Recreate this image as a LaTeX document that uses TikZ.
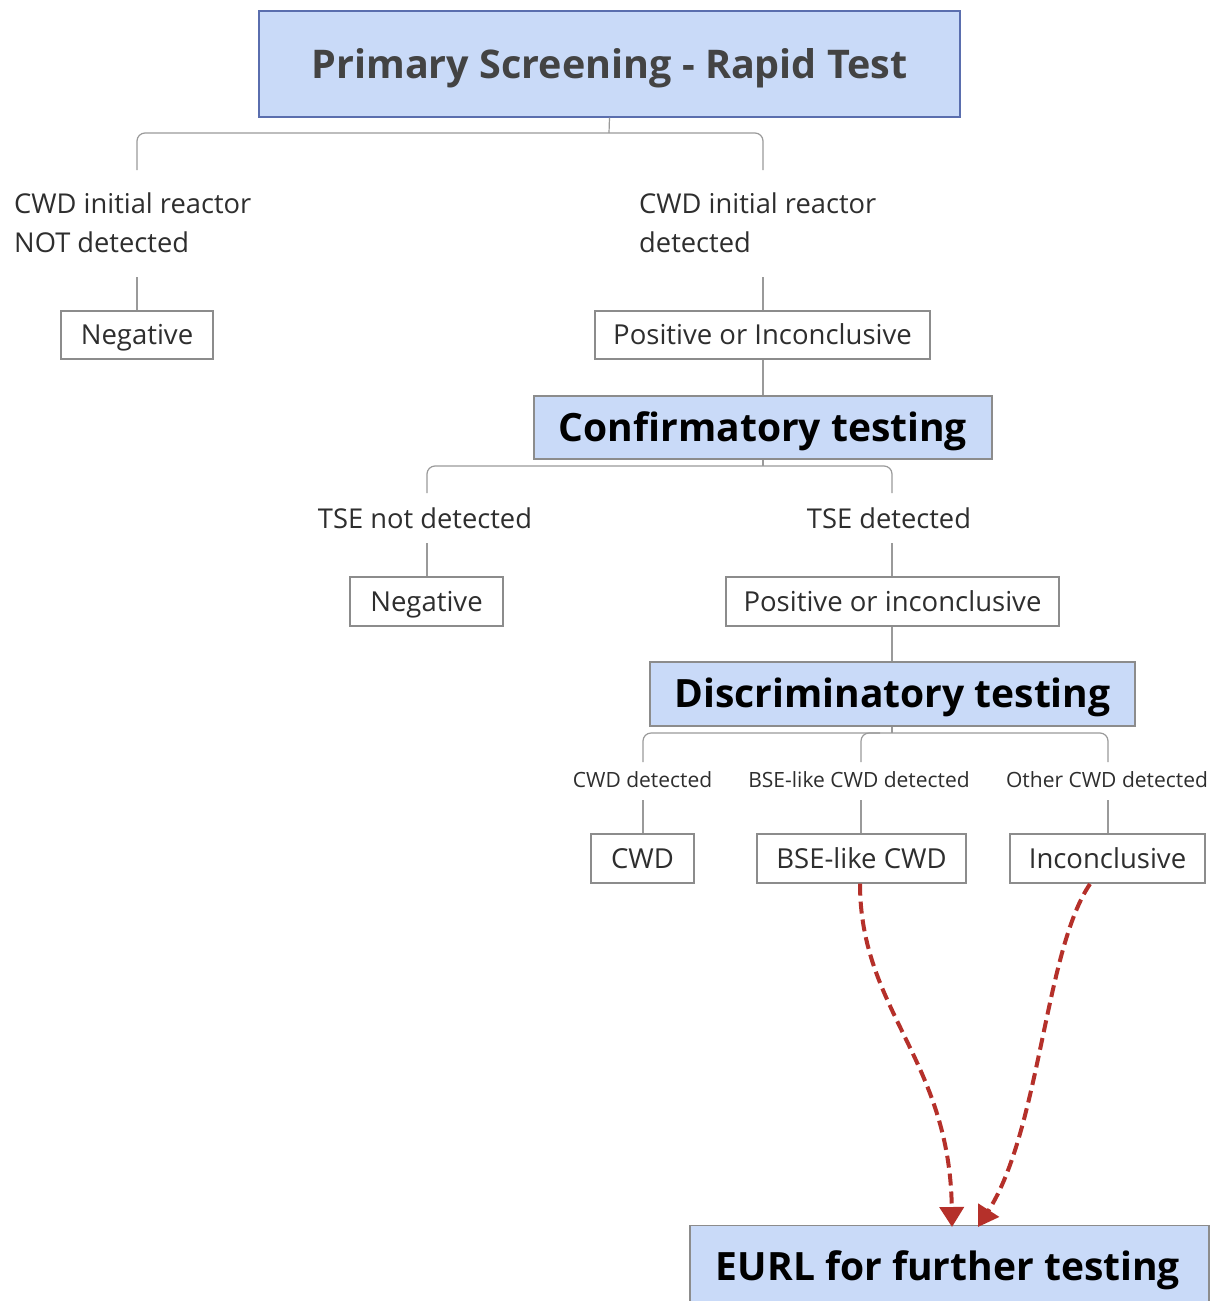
\documentclass[tikz,border=0pt]{standalone}
\usepackage{fontspec}
\setmainfont{Open Sans}
\usetikzlibrary{arrows.meta}
\definecolor{boxblue}{HTML}{C9DAF8}
\definecolor{topborder}{HTML}{5A6EAE}
\definecolor{boxborder}{HTML}{8C8C8C}
\definecolor{connc}{HTML}{9A9A9A}
\definecolor{txtc}{HTML}{2E2E2E}
\definecolor{titlec}{HTML}{434343}
\definecolor{redc}{HTML}{B5302A}
\begin{document}
\begin{tikzpicture}[x=1pt,y=-1pt,
  headbox/.style={draw=boxborder, fill=boxblue, line width=1.2pt, inner sep=0pt, font=\fontsize{39}{46}\selectfont\bfseries, text=black, text height=27.8pt, text depth=0pt},
  resbox/.style={draw=boxborder, fill=white, line width=1.2pt, inner sep=0pt, font=\fontsize{27.5}{32}\selectfont, text=txtc, text height=19.6pt, text depth=0pt},
  lbl/.style={inner sep=0pt, font=\fontsize{27.3}{39}\selectfont, text=txtc},
  slbl/.style={inner sep=0pt, font=\fontsize{21}{25}\selectfont, text=txtc},
  conn/.style={draw=connc, line width=1.2pt, rounded corners=8pt},
  redarrow/.style={draw=redc, line width=4pt, dash pattern=on 12pt off 6pt, -{Triangle[width=24pt,length=20pt]}}
]
\useasboundingbox (0,0) rectangle (1213,1301);
\clip (0,0) rectangle (1213,1301);
\fill[white] (0,0) rectangle (1213,1301);

% Top level
\node[headbox, draw=topborder, minimum width=701pt, minimum height=106pt, text=titlec, font=\fontsize{39.5}{46}\selectfont\bfseries, text height=28.2pt] (top) at (609.5,64) {Primary Screening - Rapid Test};

\node[lbl, anchor=west, align=left] (l1) at (14,223) {CWD initial reactor\\NOT detected};
\node[lbl, anchor=west, align=left] (r1) at (639,223) {CWD initial reactor\\detected};
\coordinate (l1t) at (137,170);
\coordinate (l1b) at (137,277);
\coordinate (r1t) at (763,170);
\coordinate (r1b) at (763,277);

\node[resbox, minimum width=152pt, minimum height=48pt] (neg1) at (137,335) {Negative};
\node[resbox, minimum width=335pt, minimum height=48pt] (pos1) at (762.5,335) {Positive or Inconclusive};

\draw[conn] (top.south) -- (609,133);
\draw[conn] (l1t) -- (137,133) -- (763,133) -- (r1t);
\draw[conn] (l1b) -- (neg1.north);
\draw[conn] (r1b) -- (r1b |- pos1.north);

% Confirmatory
\node[headbox, minimum width=458pt, minimum height=63pt] (conf) at (763,427.5) {Confirmatory testing};
\draw[conn] (pos1.south -| conf.north) -- (conf.north);

\node[lbl] (l2) at (425,518) {TSE not detected};
\node[lbl] (r2) at (889,518) {TSE detected};
\coordinate (l2t) at (427,493);
\coordinate (l2b) at (427,543);
\coordinate (r2t) at (892,493);
\coordinate (r2b) at (892,543);
\draw[conn] (conf.south) -- (763,466);
\draw[conn] (l2t) -- (427,466) -- (892,466) -- (r2t);

\node[resbox, minimum width=153pt, minimum height=49pt] (neg2) at (426.5,601.5) {Negative};
\node[resbox, minimum width=333pt, minimum height=49pt] (pos2) at (892.5,601.5) {Positive or inconclusive};
\draw[conn] (l2b) -- (neg2.north -| l2b);
\draw[conn] (r2b) -- (pos2.north -| r2b);

% Discriminatory
\node[headbox, minimum width=485pt, minimum height=64pt] (disc) at (892.5,694) {Discriminatory testing};
\draw[conn] (pos2.south -| r2b) -- (disc.north -| r2b);

\node[slbl] (l3) at (642.5,780) {CWD detected};
\node[slbl] (m3) at (859,780) {BSE-like CWD detected};
\node[slbl] (r3) at (1107,780) {Other CWD detected};
\coordinate (l3t) at (643,762);
\coordinate (m3t) at (861,762);
\coordinate (r3t) at (1108,762);
\coordinate (l3b) at (643,800);
\coordinate (m3b) at (861,800);
\coordinate (r3b) at (1108,800);
\draw[conn] (disc.south -| r2b) -- (892,733);
\draw[conn] (l3t) -- (643,733) -- (1108,733) -- (r3t);
\draw[conn] (m3t) -- (861,733) -- (880,733);

\node[resbox, minimum width=103pt, minimum height=49pt] (cwd) at (642.5,858.5) {CWD};
\node[resbox, minimum width=209pt, minimum height=49pt] (bse) at (861.5,858.5) {BSE-like CWD};
\node[resbox, minimum width=195pt, minimum height=49pt] (inc) at (1107.5,858.5) {Inconclusive};
\draw[conn] (l3b) -- (cwd.north -| l3b);
\draw[conn] (m3b) -- (bse.north -| m3b);
\draw[conn] (r3b) -- (inc.north -| r3b);

% EURL
\node[headbox, minimum width=519pt, minimum height=120pt, anchor=north] (eurl) at (949.5,1225) {};
\node[inner sep=0pt, font=\fontsize{39}{46}\selectfont\bfseries, text height=27.8pt, text depth=0pt] (eurlt) at (948,1267) {EURL for further testing};

\coordinate (a1) at (952,1227);
\coordinate (a2) at (978,1227);
\draw[redarrow] (bse.south -| 860,0) .. controls (860,1010) and (950,1060) .. (a1);
\draw[redarrow] (1090,884) .. controls (1045,950) and (1040,1130) .. (a2);
\end{tikzpicture}
\end{document}
